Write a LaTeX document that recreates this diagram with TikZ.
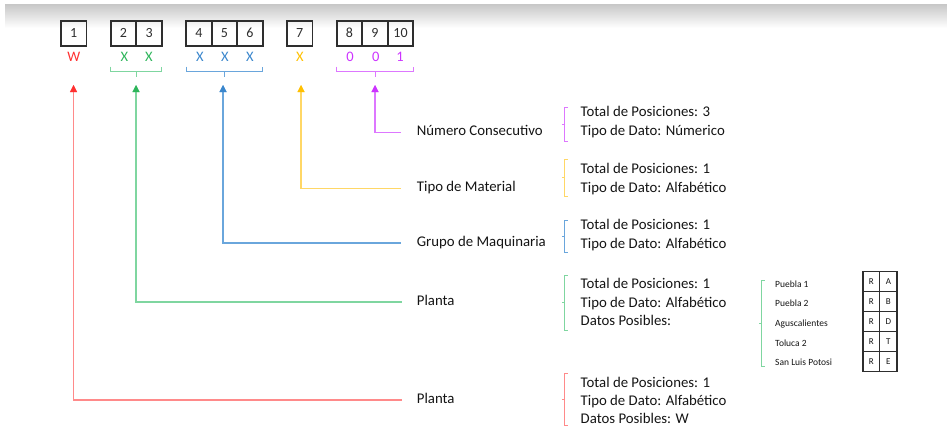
\documentclass[tikz,border=0pt]{standalone}
\usepackage{fontspec}
\setmainfont{Carlito}
\usetikzlibrary{arrows.meta}
\definecolor{txt}{HTML}{141414}
\definecolor{boxc}{HTML}{2E2E2E}
\definecolor{cR}{HTML}{FF3030}
\definecolor{lR}{HTML}{FF8A8A}
\definecolor{cG}{HTML}{2DB55A}
\definecolor{lG}{HTML}{7FD6A0}
\definecolor{cB}{HTML}{3A86CC}
\definecolor{lB}{HTML}{6AA6DC}
\definecolor{cY}{HTML}{FFC000}
\definecolor{lY}{HTML}{FFD766}
\definecolor{cP}{HTML}{CC33FF}
\definecolor{lP}{HTML}{DD77FF}
\begin{document}
\begin{tikzpicture}[x=1pt,y=-1pt,
  cell/.style={draw=boxc,line width=1.7pt,minimum width=25.5pt,minimum height=25pt,inner sep=0pt,
    text=boxc,font=\fontsize{14}{14}\selectfont},
  letter/.style={inner sep=0pt,font=\fontsize{14.5}{14.5}\selectfont},
  lbl/.style={anchor=west,inner sep=0pt,text=txt,text height=0.7em,text depth=0.05em,
    font=\fontsize{14.8}{14.8}\selectfont},
  info/.style={lbl},
  small/.style={anchor=west,inner sep=0pt,text=txt,text height=0.7em,text depth=0.05em,
    font=\fontsize{9.5}{9.5}\selectfont},
  tcell/.style={draw=boxc,line width=0.9pt,minimum width=17pt,minimum height=20pt,inner sep=0pt,
    text=txt,font=\fontsize{9}{9}\selectfont},
  conn/.style={line width=1.2pt,-{Triangle[width=7pt,length=7pt]}},
  brk/.style={line width=1pt}
]
\useasboundingbox (0,0) rectangle (947,428);
\shade[top color=gray!42,bottom color=white,draw=none] (5,5) rectangle (947,28);

% position boxes
\node[cell] (b1) at (73.7,33.2) {1};
\node[cell] (b2) at (123.5,33.2) {2};
\node[cell] (b3) at (149.1,33.2) {3};
\node[cell] (b4) at (198.8,33.2) {4};
\node[cell] (b5) at (224.4,33.2) {5};
\node[cell] (b6) at (249.9,33.2) {6};
\node[cell] (b7) at (299.7,33.2) {7};
\node[cell] (b8) at (349.5,33.2) {8};
\node[cell] (b9) at (375.0,33.2) {9};
\node[cell] (b10) at (400.5,33.2) {10};

% letters
\node[letter,text=cR] (w1) at (73.7,56.7) {W};
\node[letter,text=cG] (x2) at (124.3,56.7) {X};
\node[letter,text=cG] (x3) at (149,56.7) {X};
\node[letter,text=cB] (x4) at (200,56.7) {X};
\node[letter,text=cB] (x5) at (225,56.7) {X};
\node[letter,text=cB] (x6) at (250,56.7) {X};
\node[letter,text=cY] (x7) at (300,56.7) {X};
\node[letter,text=cP] (x8) at (350,56.7) {0};
\node[letter,text=cP] (x9) at (375.7,56.7) {0};
\node[letter,text=cP] (x10) at (400,56.7) {1};

% braces under letters
\draw[brk,lG] (110.7,66.7) -- (110.7,71.7) -- (161.7,71.7) -- (161.7,66.7) (136.2,71.7) -- (136.2,77);
\draw[brk,lB] (186,66.7) -- (186,71.7) -- (262.7,71.7) -- (262.7,66.7) (224.3,71.7) -- (224.3,77);
\draw[brk,lP] (336.7,66.7) -- (336.7,71.7) -- (413.3,71.7) -- (413.3,66.7) (375,71.7) -- (375,77);

% arrow tips
\coordinate (aR) at (73.5,85);
\coordinate (aG) at (136,85);
\coordinate (aB) at (223,85);
\coordinate (aY) at (301,85);
\coordinate (aP) at (375,85);

% labels
\node[lbl] (lNum) at (416.7,132.5) {Número Consecutivo};
\node[lbl] (lMat) at (416.7,188.5) {Tipo de Material};
\node[lbl] (lGrp) at (416.7,243) {Grupo de Maquinaria};
\node[lbl] (lPG) at (416.7,302) {Planta};
\node[lbl] (lPR) at (416.7,400) {Planta};

% connectors
\draw[conn,lP] ([xshift=-16pt]lNum.west) -| (aP);
\draw[conn,lY] ([xshift=-16pt]lMat.west) -| (aY);
\draw[conn,lB] ([xshift=-16pt]lGrp.west) -| (aB);
\draw[conn,lG] ([xshift=-15pt]lPG.west) -| (aG);
\draw[conn,lR] ([xshift=-15pt]lPR.west) -| (aR);
% arrow heads in stronger colour
\fill[cP] (aP) -- ++(-3.5,7) -- ++(7,0) -- cycle;
\fill[cY] (aY) -- ++(-3.5,7) -- ++(7,0) -- cycle;
\fill[cB] (aB) -- ++(-3.5,7) -- ++(7,0) -- cycle;
\fill[cG] (aG) -- ++(-3.5,7) -- ++(7,0) -- cycle;
\fill[cR] (aR) -- ++(-3.5,7) -- ++(7,0) -- cycle;

% right brackets
\draw[brk,lP] (567.5,107) -- (564.5,107) -- (564.5,141.5) -- (567.5,141.5) (564.5,124.3) -- (562,124.3);
\draw[brk,lY] (567.5,159) -- (564.5,159) -- (564.5,196) -- (567.5,196) (564.5,177.5) -- (562,177.5);
\draw[brk,lB] (567.5,220) -- (564.5,220) -- (564.5,252.3) -- (567.5,252.3) (564.5,236) -- (562,236);
\draw[brk,lG] (567.5,275) -- (564.5,275) -- (564.5,330) -- (567.5,330) (564.5,302.3) -- (562,302.3);
\draw[brk,lR] (567.5,373.3) -- (564.5,373.3) -- (564.5,425) -- (567.5,425) (564.5,399.3) -- (562,399.3);

% info texts
\node[info] (p1) at (580.5,113.3) {Total de Posiciones: 3};
\node[info] (p2) at (580.5,132.3) {Tipo de Dato: Númerico};
\node[info] (y1) at (580.5,170) {Total de Posiciones: 1};
\node[info] (y2) at (580.5,189) {Tipo de Dato: Alfabético};
\node[info] (bl1) at (580.5,226.7) {Total de Posiciones: 1};
\node[info] (bl2) at (580.5,245) {Tipo de Dato: Alfabético};
\node[info] (g1) at (580.5,285) {Total de Posiciones: 1};
\node[info] (g2) at (580.5,304) {Tipo de Dato: Alfabético};
\node[info] (g3) at (580.5,322.7) {Datos Posibles:};
\node[info] (r1) at (580.5,384) {Total de Posiciones: 1};
\node[info] (r2) at (580.5,402.3) {Tipo de Dato: Alfabético};
\node[info] (r3) at (580.5,420) {Datos Posibles: W};

% small list bracket
\draw[brk,lG] (764.7,280) -- (761.7,280) -- (761.7,366.7) -- (764.7,366.7) (761.7,323.3) -- (758.5,323.3);
\node[small] (s1) at (775,284) {Puebla 1};
\node[small] (s2) at (775,303.7) {Puebla 2};
\node[small] (s3) at (775,323.3) {Aguscalientes};
\node[small] (s4) at (775,343.3) {Toluca 2};
\node[small] (s5) at (775,362.7) {San Luis Potosi};

% code table
\foreach \i/\a in {0/A,1/B,2/D,3/T,4/E}{
  \node[tcell] (tr\i) at (871.35,281.7+20*\i) {R};
  \node[tcell] (tc\i) at (888.35,281.7+20*\i) {\a};
}
\draw[boxc,line width=1.4pt] (862.85,271.7) rectangle (896.85,371.7);
\end{tikzpicture}
\end{document}
